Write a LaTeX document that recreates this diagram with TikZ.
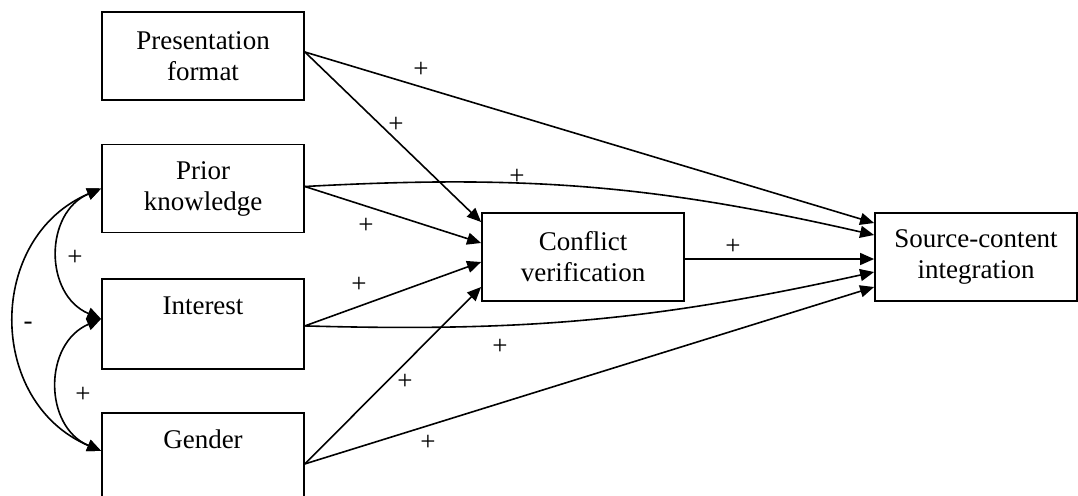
\documentclass[tikz,border=0pt]{standalone}
\usepackage{fontspec}
\setmainfont{Liberation Serif}
\usetikzlibrary{arrows.meta}
\begin{document}
\begin{tikzpicture}[x=0.5pt,y=0.5pt,
  box/.style={draw,line width=0.9pt,minimum width=101pt,align=center,
    font=\fontsize{13.5}{15.5}\selectfont},
  arr/.style={line width=0.8pt,-{Triangle[length=7pt,width=6pt]}},
  arrtwo/.style={line width=0.8pt,{Triangle[length=7pt,width=6pt]}-{Triangle[length=7pt,width=6pt]}},
  lbl/.style={font=\fontsize{13.5}{15}\selectfont,inner sep=0pt}]
\useasboundingbox (0,0) rectangle (1078,-495);
\node[box,minimum height=44pt] (pres) at (203,-56) {Presentation\\format};
\node[box,minimum height=44pt] (prior) at (203,-188.5) {Prior\\knowledge};
\node[box,anchor=north,inner sep=0pt,text height=18pt,text depth=27pt] (int) at (203,-278) {Interest};
\node[box,anchor=north,inner sep=0pt,text height=18pt,text depth=33pt] (gen) at (203,-412) {Gender};
\node[box,minimum height=44pt] (conf) at (583,-257) {Conflict\\verification};
\node[box,minimum height=44pt] (src) at (976,-257) {Source-content\\integration};

\draw[arr] ([yshift=2pt]pres.east) -- ([yshift=17.5pt]conf.west);
\draw[arr] ([yshift=2pt]pres.east) -- ([yshift=17pt]src.west);
\draw[arr] ([yshift=1pt]prior.east) -- ([yshift=7pt]conf.west);
\draw[arr] ([yshift=1pt]prior.east) to[bend left=8] ([yshift=11pt]src.west);
\draw[arr] ([yshift=-1pt]int.east) -- ([yshift=-2.5pt]conf.west);
\draw[arr] ([yshift=-1pt]int.east) to[bend right=7] ([yshift=-7.5pt]src.west);
\draw[arr] (gen.east) -- ([yshift=-15pt]conf.west);
\draw[arr] (gen.east) -- ([yshift=-15pt]src.west);
\draw[arr] ([yshift=-1pt]conf.east) -- ([yshift=-1pt]src.west);

\draw[arrtwo] (prior.west) to[out=203,in=157,looseness=1.22] ([yshift=2.5pt]int.west);
\draw[arrtwo] ([yshift=2.5pt]int.west) to[out=203,in=157,looseness=1.22] ([yshift=6.5pt]gen.west);
\draw[arrtwo] (prior.west) to[out=203,in=157,looseness=1.22] ([yshift=6.5pt]gen.west);

\node[lbl] (l1) at (421,-70) {+};
\node[lbl] (l2) at (396,-125) {+};
\node[lbl] (l3) at (517,-177) {+};
\node[lbl] (l4) at (366,-226) {+};
\node[lbl] (l5) at (733,-247) {+};
\node[lbl] (l6) at (359,-285) {+};
\node[lbl] (l7) at (500,-347) {+};
\node[lbl] (l8) at (405,-382) {+};
\node[lbl] (l9) at (428,-443) {+};
\node[lbl] (l10) at (75,-258) {+};
\node[lbl] (l11) at (83,-395) {+};
\node[lbl] (l12) at (28,-326) {-};
\end{tikzpicture}
\end{document}
